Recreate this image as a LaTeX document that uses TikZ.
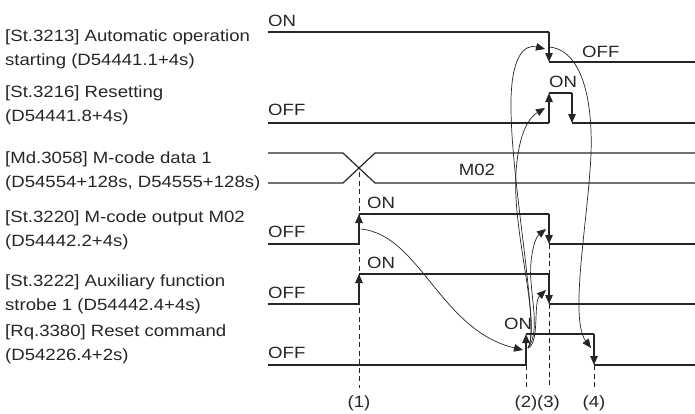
\documentclass[tikz,border=0pt]{standalone}
\usepackage{fontspec}
\setmainfont{Liberation Sans}[FakeStretch=1.14]
\usetikzlibrary{arrows.meta}
\begin{document}
\begin{tikzpicture}[x=1pt,y=-1pt,
  ink/.style={black!85},
  txt/.style={ink,inner sep=0pt,font=\fontsize{16.3pt}{23.5pt}\selectfont},
  lbl/.style={txt,anchor=base west,align=left},
  sig/.style={ink,line width=1.2pt},
  edgearrow/.style={ink,line width=1.2pt,-{Triangle[length=9pt,width=7.5pt]}},
  curv/.style={ink,line width=0.7pt,-{Triangle[length=9pt,width=7.5pt]}},
  dsh/.style={ink,line width=0.8pt,dash pattern=on 5pt off 3.5pt}]
\useasboundingbox (0,0) rectangle (695,413);

% left labels (anchor = baseline of the last line)
\node[lbl] (l1) at (5,65) {[St.3213] Automatic operation\\starting (D54441.1+4s)};
\node[lbl] (l2) at (5,121) {[St.3216] Resetting\\(D54441.8+4s)};
\node[lbl] (l3) at (5,187) {[Md.3058] M-code data 1\\(D54554+128s, D54555+128s)};
\node[lbl] (l4) at (5,246) {[St.3220] M-code output M02\\(D54442.2+4s)};
\node[lbl] (l5) at (5,310) {[St.3222] Auxiliary function\\strobe 1 (D54442.4+4s)};
\node[lbl] (l6) at (5,360) {[Rq.3380] Reset command\\(D54226.4+2s)};

% dashed timing markers
\draw[dsh] (359,172) -- (359,388);
\draw[dsh] (526,365) -- (526,388);
\draw[dsh] (549,244) -- (549,388);
\draw[dsh] (594,365) -- (594,388);

% row 1
\draw[sig] (268,32) -- (549,32);
\draw[edgearrow] (549,32) -- (549,62);
\draw[sig] (549,62) -- (695,62);
% row 2
\draw[sig] (268,123) -- (549,123);
\draw[edgearrow] (549,123) -- (549,93);
\draw[sig] (549,93) -- (572,93);
\draw[edgearrow] (572,93) -- (572,123);
\draw[sig] (572,123) -- (695,123);
% row 3
\draw[sig] (268,153) -- (343,153) -- (375,183) -- (695,183);
\draw[sig] (268,183) -- (343,183) -- (375,153) -- (695,153);
% row 4
\draw[sig] (268,244) -- (359,244);
\draw[edgearrow] (359,244) -- (359,214);
\draw[sig] (359,214) -- (549,214);
\draw[edgearrow] (549,214) -- (549,244);
\draw[sig] (549,244) -- (695,244);
% row 5
\draw[sig] (268,304) -- (359,304);
\draw[edgearrow] (359,304) -- (359,274);
\draw[sig] (359,274) -- (549,274);
\draw[edgearrow] (549,274) -- (549,304);
\draw[sig] (549,304) -- (695,304);
% row 6
\draw[sig] (268,365) -- (526,365);
\draw[edgearrow] (526,365) -- (526,334);
\draw[sig] (526,334) -- (594,334);
\draw[edgearrow] (594,334) -- (594,365);
\draw[sig] (594,365) -- (695,365);

% level labels
\node[lbl] (on1) at (268,26) {ON};
\node[lbl] (off1) at (582,57) {OFF};
\node[lbl] (off2) at (268,115) {OFF};
\node[lbl] (on2) at (549,87) {ON};
\node[txt,anchor=base] (m02) at (477,175) {M02};
\node[lbl] (off4) at (268,237) {OFF};
\node[lbl] (on4) at (367,208) {ON};
\node[lbl] (off5) at (268,298) {OFF};
\node[lbl] (on5) at (367,268) {ON};
\node[lbl] (off6) at (268,358) {OFF};
\node[lbl] (on6) at (504,329) {ON};

% time labels
\node[txt,anchor=base] (t1) at (359,407) {(1)};
\node[txt,anchor=base] (t2) at (526,407) {(2)};
\node[txt,anchor=base] (t3) at (548.5,407) {(3)};
\node[txt,anchor=base] (t4) at (594,407) {(4)};

% causal curves
\coordinate (s1) at (361,229);
\coordinate (s2) at (528,348);
\coordinate (top) at (549,47);
\draw[curv] (s1) .. controls (420,235) and (440,330) .. (523,350);
\draw[curv] (s2) .. controls (540,343) and (533,302) .. (546,290);
\draw[curv] (s2) .. controls (542,330) and (528,290) .. (531,262) .. controls (533,243) and (537,236) .. (546,229);
\draw[curv] (s2) .. controls (541,322) and (512,232) .. (516,172) .. controls (519,130) and (530,117) .. (545,108);
\draw[curv] (s2) .. controls (540,330) and (512,190) .. (511,110) .. controls (510,55) and (525,44) .. (545,49);
\draw[curv] (top) .. controls (585,50) and (595,110) .. (590,170) .. controls (586,230) and (570,320) .. (591,348);
\end{tikzpicture}
\end{document}
